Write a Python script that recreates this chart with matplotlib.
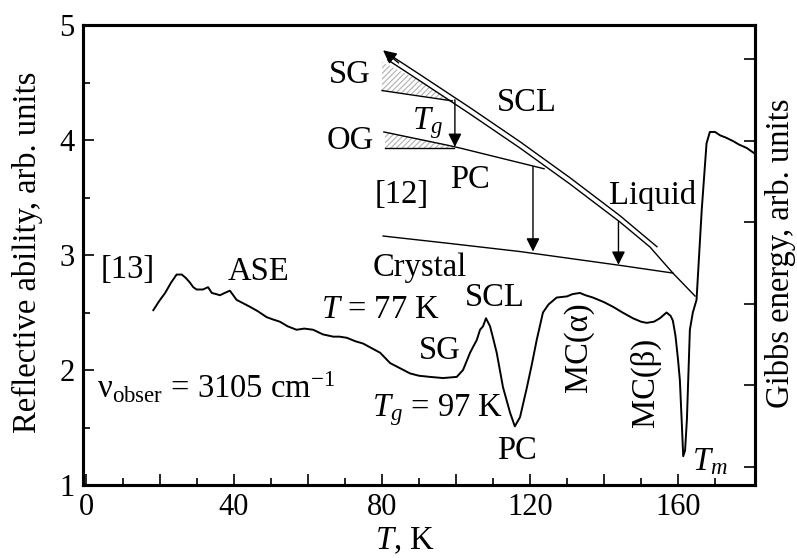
import matplotlib
matplotlib.use("Agg")
import matplotlib.pyplot as plt

plt.rcParams["font.family"] = ["Liberation Serif", "DejaVu Serif"]
plt.rcParams["mathtext.fontset"] = "custom"
plt.rcParams["mathtext.rm"] = "Liberation Serif"
plt.rcParams["mathtext.it"] = "Liberation Serif:italic"
plt.rcParams["hatch.linewidth"] = 0.8

FS = 23.5

# reflectivity curve, T in K
temps = [18.2, 19.8, 21.4, 23.0, 24.5, 25.9, 27.0, 28.1, 29.0, 29.9, 31.6, 33.0,
         34.0, 35.2, 36.2, 37.5, 38.9, 39.8, 40.7, 42.5, 44.3, 46.5, 48.8, 50.5,
         52.4, 54.5, 56.9, 59.0, 61.4, 64.0, 66.8, 68.5, 70.5, 72.8, 74.9, 77.2,
         79.5, 81.0, 82.2, 84.0, 85.8, 87.6, 90.0, 93.0, 96.5, 100.2, 101.9,
         103.8, 104.6, 105.6, 106.5, 107.3, 108.1, 109.2, 110.0, 111.0, 112.7,
         114.6, 115.9, 117.3, 119.1, 120.5, 121.8, 123.5, 125.0, 127.2, 130.0,
         131.5, 133.5, 135.0, 137.0, 140.0, 142.4, 145.0, 147.8, 150.0, 151.5,
         153.5, 155.1, 156.9, 158.0, 158.6, 159.3, 160.0, 160.5, 161.0, 161.4,
         161.9, 162.4, 163.2, 164.0, 165.0, 166.4, 167.7, 168.6, 170.0, 171.4,
         173.0, 174.9, 176.5, 178.6, 180.8]
reflect = [2.52, 2.60, 2.67, 2.76, 2.83, 2.83, 2.80, 2.76, 2.72, 2.70, 2.70, 2.72,
           2.67, 2.66, 2.65, 2.67, 2.69, 2.65, 2.61, 2.58, 2.55, 2.51, 2.46, 2.44,
           2.42, 2.38, 2.35, 2.36, 2.35, 2.31, 2.29, 2.29, 2.28, 2.25, 2.23, 2.19,
           2.15, 2.10, 2.06, 2.03, 2.00, 1.97, 1.95, 1.94, 1.93, 1.94, 2.00,
           2.15, 2.20, 2.26, 2.35, 2.38, 2.45, 2.38, 2.28, 2.15, 1.85,
           1.63, 1.51, 1.59, 1.84, 2.05, 2.26, 2.50, 2.57, 2.63, 2.64,
           2.66, 2.67, 2.65, 2.63, 2.59, 2.55, 2.50, 2.45, 2.42, 2.41,
           2.42, 2.45, 2.50, 2.47, 2.43, 2.30, 2.09, 1.91, 1.55, 1.25,
           1.30, 1.57, 2.35, 2.50, 2.61, 3.39, 3.97, 4.07, 4.07, 4.04,
           4.02, 3.99, 3.96, 3.93, 3.88]

# schematic Gibbs energy diagram (drawn in the left axis units)
liquid_t = [81.6, 90.3, 103.8, 117.3, 130.8, 144.3, 152.4, 158.6, 164.6]
liquid_g = [4.696, 4.513, 4.226, 3.930, 3.617, 3.287, 3.070, 2.843, 2.643]
scl_t = [81.6, 90.3, 103.8, 117.3, 130.8, 144.3, 154.3]
scl_g = [4.751, 4.568, 4.281, 3.985, 3.672, 3.342, 3.072]
crystal_t = [80.3, 98.4, 117.3, 144.3, 158.6]
crystal_g = [3.165, 3.10, 3.03, 2.91, 2.843]
pc_t = [80.5, 98.4, 101.1, 123.8]
pc_g = [4.07, 3.95, 3.93, 3.75]
sg_t = [80.0, 99.0]
sg_g = [4.43, 4.34]
og_t = [80.8, 99.5]
og_g = [3.93, 3.93]

fig = plt.figure(figsize=(7.97, 5.58), dpi=100)
ax = fig.add_axes([83 / 797, 1 - 485 / 558, 672 / 797, 460 / 558])

ax.plot(temps, reflect, color="k", lw=1.4)

lw = 1.0
ax.plot(liquid_t, liquid_g, color="k", lw=lw)
ax.plot(scl_t, scl_g, color="k", lw=lw)
ax.plot(crystal_t, crystal_g, color="k", lw=lw)
ax.plot(pc_t, pc_g, color="k", lw=lw)
ax.plot(sg_t, sg_g, color="k", lw=lw)
ax.plot(og_t, og_g, color="k", lw=lw)

# hatched glass regions
ax.fill_between([80.0, 90.3, 99.0], [4.43, 4.39, 4.34], [4.68, 4.513, 4.34],
                facecolor="none", edgecolor="#b0b0b0", hatch="//////", lw=0)
ax.fill_between([80.8, 98.4, 99.5], [3.93, 3.93, 3.93], [4.07, 3.95, 3.93],
                facecolor="none", edgecolor="#b0b0b0", hatch="//////", lw=0)

arrow = dict(arrowstyle="-|>", color="k", lw=1.0, mutation_scale=20,
             shrinkA=0, shrinkB=0)
ax.annotate("", xy=(80.3, 4.78), xytext=(84.5, 4.67), arrowprops=arrow)
ax.annotate("", xy=(99.7, 3.94), xytext=(99.7, 4.35), arrowprops=arrow)
ax.annotate("", xy=(120.8, 3.03), xytext=(120.8, 3.77), arrowprops=arrow)
ax.annotate("", xy=(143.9, 2.915), xytext=(143.9, 3.29), arrowprops=arrow)

txt = dict(fontsize=FS, ha="center", va="center")
ax.text(71.4, 4.57, "SG", **txt)
ax.text(71.4, 3.99, "OG", **txt)
ax.text(92.4, 4.15, r"$T_g$", **txt)
ax.text(119.2, 4.32, "SCL", **txt)
ax.text(103.8, 3.65, "PC", **txt)
ax.text(85.4, 3.52, "[12]", **txt)
ax.text(153.2, 3.52, "Liquid", **txt)
ax.text(90.3, 2.89, "Crystal", **txt)
ax.text(11.4, 2.87, "[13]", **txt)
ax.text(46.5, 2.85, "ASE", **txt)
ax.text(79.5, 2.52, r"$T$ = 77 K", **txt)
ax.text(110.5, 2.63, "SCL", **txt)
ax.text(95.7, 2.17, "SG", **txt)
ax.text(94.9, 1.65, r"$T_g$ = 97 K", **txt)
ax.text(116.5, 1.30, "PC", **txt)
ax.text(133.0, 2.20, "MC(α)", rotation=90, **txt)
ax.text(151.1, 1.89, "MC(β)", rotation=90, **txt)
ax.text(168.6, 1.20, r"$T_m$", **txt)
ax.text(3.0, 1.757, r"ν$_{\rm obser}$ = 3105 cm$^{-1}$", fontsize=FS,
        ha="left", va="baseline")

ax.set_xlim(-0.8, 180.8)
ax.set_ylim(1, 5)
ax.set_xticks(range(0, 180, 20))
ax.set_xticklabels(["0", "", "40", "", "80", "", "120", "", "160"])
ax.set_xticks(range(10, 180, 20), minor=True)
ax.set_yticks([1, 2, 3, 4, 5])
ax.set_yticks([1.5, 2.5, 3.5, 4.5], minor=True)
ax.tick_params(which="major", direction="in", length=8, width=1.2,
               labelsize=22, pad=6)
ax.tick_params(which="minor", direction="in", length=5, width=1.2)
for s in ax.spines.values():
    s.set_linewidth(2.2)

ax2 = ax.twinx()
ax2.set_ylim(-0.22, 5.42)
ax2.set_yticks(range(6))
ax2.set_yticklabels([])
ax2.tick_params(direction="in", length=8, width=1.2)
for s in ax2.spines.values():
    s.set_linewidth(2.2)

fig.text(27 / 797, 1 - 252 / 558, "Reflective ability, arb. units",
         rotation=90, fontsize=FS, ha="center", va="center")
fig.text(780 / 797, 1 - 253 / 558, "Gibbs energy, arb. units",
         rotation=90, fontsize=FS, ha="center", va="center")
fig.text(405 / 797, 1 - 541 / 558, r"$T$, K", fontsize=FS,
         ha="center", va="center")

fig.savefig("out.png", dpi=100)
